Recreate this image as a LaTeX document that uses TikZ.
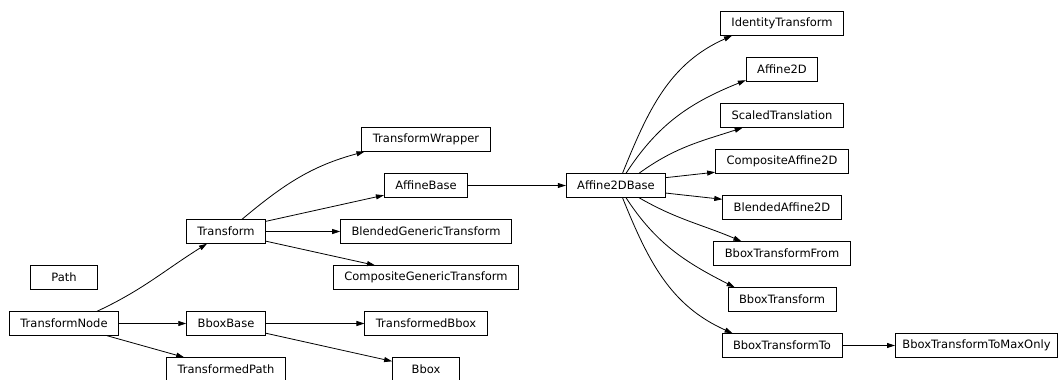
\documentclass[tikz,border=0pt]{standalone}
\usepackage{fontspec}
\setmainfont{DejaVu Sans}
\usepackage{tikz}
\usetikzlibrary{arrows.meta}

\begin{document}
\begin{tikzpicture}[x=1pt,y=-1pt,
    cls/.style={draw,line width=0.8pt,font=\fontsize{11.5}{13}\selectfont,
      inner xsep=11pt,inner ysep=0pt,minimum height=23.6pt,minimum width=67pt},
    inh/.style={-{Triangle[length=8pt,width=5pt]},line width=0.8pt}]
  \useasboundingbox (0,0) rectangle (1060,380);
  % Klassen
  \node[cls] (path)   at (64,277.5)  {Path};
  \node[cls] (tnode)  at (64,323.5)  {TransformNode};
  \node[cls] (trans)  at (226,231.5) {Transform};
  \node[cls] (bbase)  at (226,323.5) {BboxBase};
  \node[cls] (tpath)  at (226,369.5) {TransformedPath};
  \node[cls] (twrap)  at (426,139.5) {TransformWrapper};
  \node[cls] (abase)  at (426,185.5) {AffineBase};
  \node[cls] (bgt)    at (426,231.5) {BlendedGenericTransform};
  \node[cls] (cgt)    at (426,277.5) {CompositeGenericTransform};
  \node[cls] (tbbox)  at (426,323.5) {TransformedBbox};
  \node[cls] (bbox)   at (426,369.5) {Bbox};
  \node[cls] (a2base) at (616,185.5) {Affine2DBase};
  \node[cls] (ident)  at (782,23.5)  {IdentityTransform};
  \node[cls] (a2d)    at (782,69.5)  {Affine2D};
  \node[cls] (scaled) at (782,115.5) {ScaledTranslation};
  \node[cls] (ca2d)   at (782,161.5) {CompositeAffine2D};
  \node[cls] (ba2d)   at (782,207.5) {BlendedAffine2D};
  \node[cls] (btfrom) at (782,253.5) {BboxTransformFrom};
  \node[cls] (bt)     at (782,299.5) {BboxTransform};
  \node[cls] (btto)   at (782,345.5) {BboxTransformTo};
  \node[cls,inner xsep=7pt] (btmax) at (976.5,345.5) {BboxTransformToMaxOnly};
  % Vererbung
  \draw[inh] ([xshift=33pt]tnode.north) to[out=25,in=212] ([xshift=-19pt]trans.south);
  \draw[inh] (tnode) -- (bbase);
  \draw[inh] ([xshift=43pt]tnode.south) -- ([xshift=18pt]tpath.north west);
  \draw[inh] ([xshift=16pt]trans.north) to[out=40,in=195] ([xshift=3pt]twrap.south west);
  \draw[inh] ([yshift=-2pt]trans.north east) -- ([yshift=2.5pt]abase.south west);
  \draw[inh] (trans) -- (bgt);
  \draw[inh] ([yshift=2.5pt]trans.south east) -- ([xshift=-51pt]cgt.north);
  \draw[inh] (bbase) -- (tbbox);
  \draw[inh] ([yshift=2.5pt]bbase.south east) -- ([yshift=-4pt]bbox.north west);
  \draw[inh] (abase) -- (a2base);
  \draw[inh] ([xshift=6.5pt]a2base.north) to[out=68,in=204] ([xshift=12pt]ident.south west);
  \draw[inh] ([xshift=10pt]a2base.north) to[out=57,in=202] ([yshift=1.5pt]a2d.south west);
  \draw[inh] ([xshift=23pt]a2base.north) to[out=36,in=198] ([xshift=22.5pt]scaled.south west);
  \draw[inh] ([yshift=-4.3pt]a2base.north east) -- ([yshift=1.5pt]ca2d.south west);
  \draw[inh] ([yshift=4.6pt]a2base.south east) -- ([yshift=-4pt]ba2d.north west);
  \draw[inh] ([xshift=23pt]a2base.south) to[out=-30,in=157] ([xshift=28pt]btfrom.north west);
  \draw[inh] ([xshift=10pt]a2base.south) to[out=-57,in=153] ([xshift=7pt]bt.north west);
  \draw[inh] ([xshift=6.5pt]a2base.south) to[out=-68,in=156] ([xshift=11pt]btto.north west);
  \draw[inh] (btto) -- (btmax);
\end{tikzpicture}
\end{document}
